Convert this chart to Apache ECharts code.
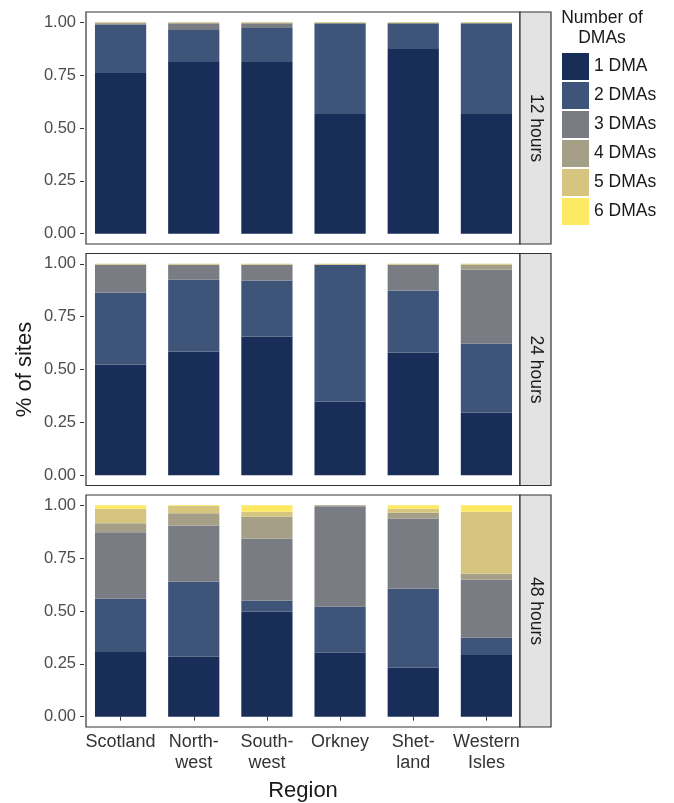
<!DOCTYPE html>
<html>
<head>
<meta charset="utf-8">
<script src="https://cdn.jsdelivr.net/npm/echarts@6/dist/echarts.min.js"></script>
<style>
html,body{margin:0;padding:0;background:#fff;}
#chart{width:674px;height:803px;}
</style>
</head>
<body>
<div id="chart"></div>
<script>
// ---- data ----
const regions = ['Scotland', 'North-\nwest', 'South-\nwest', 'Orkney', 'Shet-\nland', 'Western\nIsles'];
const dmaLevels = ['1 DMA', '2 DMAs', '3 DMAs', '4 DMAs', '5 DMAs', '6 DMAs'];
const panels = ['12 hours', '24 hours', '48 hours'];
const yTicks = [0, 0.25, 0.5, 0.75, 1];

// share of sites per region, one array per number of DMAs (order of regions above)
const h12_1 = [0.760, 0.812, 0.812, 0.566, 0.874, 0.566];
const h12_2 = [0.229, 0.152, 0.161, 0.429, 0.121, 0.429];
const h12_3 = [0.006, 0.031, 0.022, 0.000, 0.000, 0.000];
const h12_4 = [0.000, 0.000, 0.000, 0.000, 0.000, 0.000];
const h12_5 = [0.005, 0.005, 0.005, 0.005, 0.005, 0.005];
const h12_6 = [0.000, 0.000, 0.000, 0.000, 0.000, 0.000];

const h24_1 = [0.524, 0.585, 0.656, 0.349, 0.580, 0.297];
const h24_2 = [0.340, 0.341, 0.265, 0.646, 0.294, 0.326];
const h24_3 = [0.131, 0.069, 0.074, 0.000, 0.121, 0.350];
const h24_4 = [0.000, 0.000, 0.000, 0.000, 0.000, 0.022];
const h24_5 = [0.005, 0.005, 0.005, 0.005, 0.005, 0.005];
const h24_6 = [0.000, 0.000, 0.000, 0.000, 0.000, 0.000];

const h48_1 = [0.306, 0.283, 0.496, 0.302, 0.231, 0.292];
const h48_2 = [0.252, 0.355, 0.052, 0.218, 0.374, 0.081];
const h48_3 = [0.314, 0.267, 0.294, 0.475, 0.332, 0.275];
const h48_4 = [0.043, 0.057, 0.104, 0.005, 0.028, 0.028];
const h48_5 = [0.069, 0.035, 0.024, 0.000, 0.019, 0.294];
const h48_6 = [0.016, 0.003, 0.030, 0.000, 0.016, 0.030];

const panelData = [
  [h12_1, h12_2, h12_3, h12_4, h12_5, h12_6],
  [h24_1, h24_2, h24_3, h24_4, h24_5, h24_6],
  [h48_1, h48_2, h48_3, h48_4, h48_5, h48_6]
];

// ---- style / layout ----
const colors = ['#182d57', '#3f5479', '#7a7c84', '#a59f88', '#d5c57f', '#fee962'];
const FONT = '"Liberation Sans", Arial, Helvetica, sans-serif';
const panelTop = [12, 253.5, 495];
const panelH = 232;
const pad = 10.3;
const panelLeft = 86, panelRight = 520;
const stripW = 31;

const chart = echarts.init(document.getElementById('chart'), null, {renderer: 'canvas'});

const grids = [], xAxes = [], yAxes = [], series = [], graphics = [];
panels.forEach((p, i) => {
  grids.push({left: 84, width: 439, top: panelTop[i] + pad, height: panelH - 2 * pad, containLabel: false});
  const last = i === panels.length - 1;
  xAxes.push({
    type: 'category', gridIndex: i, data: regions,
    offset: pad,
    axisLine: {show: false},
    axisTick: {show: last, alignWithLabel: true, length: 4, lineStyle: {color: '#333', width: 1}},
    axisLabel: {show: last, fontFamily: FONT, fontSize: 18, color: '#333', lineHeight: 21, margin: 5, interval: 0},
    splitLine: {show: false}
  });
  yAxes.push({
    type: 'value', gridIndex: i, min: 0, max: 1, interval: 0.25,
    axisLine: {show: false},
    axisTick: {show: true, length: 4, lineStyle: {color: '#333', width: 1}},
    axisLabel: {fontFamily: FONT, fontSize: 16.5, color: '#4d4d4d', margin: 8,
      customValues: yTicks,
      formatter: v => v.toFixed(2)},
    splitLine: {show: false}
  });
  dmaLevels.forEach((name, k) => {
    series.push({
      type: 'bar', name: name, xAxisIndex: i, yAxisIndex: i, stack: 'p' + i,
      data: panelData[i][k], barWidth: '70%',
      itemStyle: {color: colors[k], borderWidth: 0},
      emphasis: {disabled: true}, animation: false
    });
  });
  // panel border
  graphics.push({type: 'rect', z: 100,
    shape: {x: panelLeft, y: panelTop[i], width: panelRight - panelLeft, height: panelH},
    style: {fill: null, stroke: '#333', lineWidth: 1.2}});
  // facet strip
  graphics.push({type: 'rect', z: 100,
    shape: {x: panelRight, y: panelTop[i], width: stripW, height: panelH},
    style: {fill: '#e3e3e3', stroke: '#333', lineWidth: 1.2}});
  graphics.push({type: 'text', z: 101,
    x: panelRight + stripW / 2, y: panelTop[i] + panelH / 2, rotation: -Math.PI / 2,
    style: {text: p, fontFamily: FONT, fontSize: 17.5, fill: '#1a1a1a', align: 'center', verticalAlign: 'middle'}});
});

// axis titles
graphics.push({type: 'text', x: 25, y: (panelTop[0] + panelTop[2] + panelH) / 2, rotation: Math.PI / 2,
  style: {text: '% of sites', fontFamily: FONT, fontSize: 22, fill: '#1a1a1a', align: 'center', verticalAlign: 'middle'}});
graphics.push({type: 'text', x: (panelLeft + panelRight) / 2, y: 791,
  style: {text: 'Region', fontFamily: FONT, fontSize: 22, fill: '#1a1a1a', align: 'center', verticalAlign: 'middle'}});
// legend title
graphics.push({type: 'text', x: 602, y: 8,
  style: {text: 'Number of\nDMAs', fontFamily: FONT, fontSize: 17.5, lineHeight: 20, fill: '#1a1a1a', align: 'center', verticalAlign: 'top'}});

chart.setOption({
  animation: false,
  backgroundColor: '#fff',
  grid: grids, xAxis: xAxes, yAxis: yAxes, series: series,
  legend: {
    data: dmaLevels, orient: 'vertical', left: 562, top: 53, padding: 0,
    itemWidth: 27, itemHeight: 27, itemGap: 2, icon: 'rect', selectedMode: false,
    textStyle: {fontFamily: FONT, fontSize: 17.5, color: '#1a1a1a'}
  },
  graphic: graphics
});
</script>
</body>
</html>
